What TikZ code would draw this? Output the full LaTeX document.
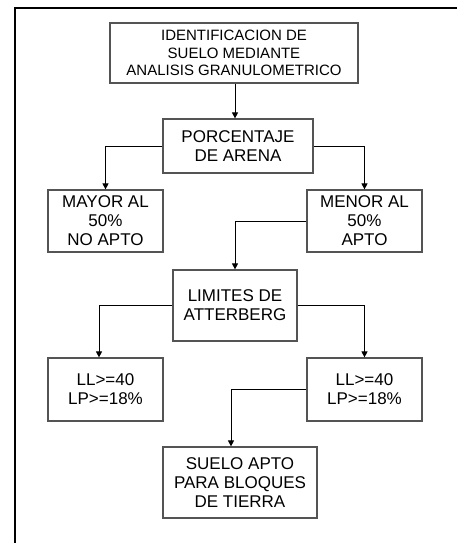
\documentclass[tikz,border=0pt]{standalone}
\usepackage{fontspec}
\setmainfont{Liberation Sans}
\usetikzlibrary{arrows.meta}
\definecolor{boxgray}{rgb}{0.33,0.33,0.33}
\tikzset{
  flowbox/.style={draw=boxgray, line width=1.2pt, rectangle, align=center, inner sep=0pt,
    font=\fontsize{17}{19}\selectfont},
  conn/.style={draw=black, line width=0.9pt, -{Triangle[length=6pt,width=6pt]}},
}
\begin{document}
\begin{tikzpicture}[x=1pt,y=-1pt]
\useasboundingbox (0,0) rectangle (457,543);
\fill[white] (0,0) rectangle (457,543);
\draw[line width=2pt] (15,543) -- (15,8.5) -- (457,8.5);

\node[flowbox, minimum width=248pt, minimum height=60pt, font=\fontsize{15}{17.5}\selectfont] (top) at (234,53)
  {IDENTIFICACION DE\\SUELO MEDIANTE\\ANALISIS GRANULOMETRICO};
\node[flowbox, minimum width=150pt, minimum height=54pt] (arena) at (238,146)
  {PORCENTAJE\\DE ARENA};
\node[flowbox, minimum width=115pt, minimum height=62pt] (mayor) at (105.5,221)
  {MAYOR AL\\50\%\\NO APTO};
\node[flowbox, minimum width=115pt, minimum height=62pt] (menor) at (364.5,221)
  {MENOR AL\\50\%\\APTO};
\node[flowbox, minimum width=124pt, minimum height=71pt] (lim) at (235,305.5)
  {LIMITES DE\\ATTERBERG};
\node[flowbox, minimum width=115pt, minimum height=63pt] (llL) at (105.5,389.5)
  {LL>=40\\LP>=18\%};
\node[flowbox, minimum width=115pt, minimum height=63pt] (llR) at (364.5,389.5)
  {LL>=40\\LP>=18\%};
\node[flowbox, minimum width=154pt, minimum height=71pt] (suelo) at (240,482.5)
  {SUELO APTO\\PARA BLOQUES\\DE TIERRA};

\draw[conn] ([xshift=1pt]top.south) -- ([xshift=1pt]top.south |- arena.north);
\draw[conn] (arena.west) -| (mayor.north);
\draw[conn] (arena.east) -| (menor.north);
\draw[conn] (menor.west) -| (lim.north);
\draw[conn] (lim.west) -| ([xshift=-6.5pt]llL.north);
\draw[conn] (lim.east) -| (llR.north);
\draw[conn] (llR.west) -| ([xshift=-9pt]suelo.north);
\end{tikzpicture}
\end{document}
